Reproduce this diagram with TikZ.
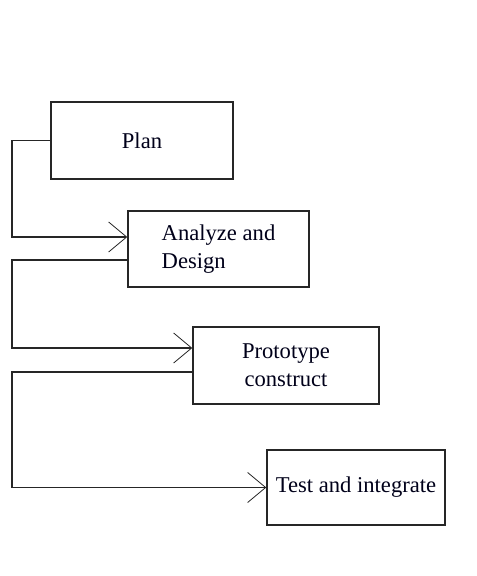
\documentclass[tikz,border=0pt]{standalone}
\usepackage{fontspec}
\setmainfont{Liberation Serif}
\usetikzlibrary{arrows.meta}

\begin{document}
\begin{tikzpicture}[x=0.5pt,y=-0.5pt]
    \tikzstyle{Phase} = [
            draw=black!85,
            line width=0.75pt,
            rectangle,
            inner sep=0pt,
            text=black!90!blue,
            font={\fontsize{11.3}{14}\selectfont}
    ];
    \tikzstyle{Flow} = [
            draw=black!85,
            line width=0.6pt,
            -{Straight Barb[length=9pt,width=15pt,line width=0.4pt]}
    ];

    \useasboundingbox (0,0) rectangle (476,576);

    \coordinate (rail) at (12,0);

    \node[Phase, name=Plan,   minimum width=91pt, minimum height=38.5pt] at (142,140.5) {Plan};
    \node[Phase, name=Design, minimum width=90.5pt, minimum height=38pt, align=left] at (218.5,249) {Analyze and\\Design};
    \node[Phase, name=Proto,  minimum width=93pt, minimum height=38.5pt, align=center] at (286,365.5) {Prototype\\construct};
    \node[Phase, name=Test,   minimum width=89pt, minimum height=37.5pt] at (356,487.5) {Test and integrate};

    % ports on the left sides
    \coordinate (DesignIn)  at ([yshift=6pt]Design.west);
    \coordinate (DesignOut) at ([yshift=-5.5pt]Design.west);
    \coordinate (ProtoIn)   at ([yshift=8.75pt]Proto.west);
    \coordinate (ProtoOut)  at ([yshift=-3.25pt]Proto.west);

    \draw[Flow] (Plan.west)  -- (rail |- Plan.west)  |- (DesignIn);
    \draw[Flow] (DesignOut) -- (rail |- DesignOut) |- (ProtoIn);
    \draw[Flow] (ProtoOut)  -- (rail |- ProtoOut)  |- (Test.west);
\end{tikzpicture}
\end{document}
